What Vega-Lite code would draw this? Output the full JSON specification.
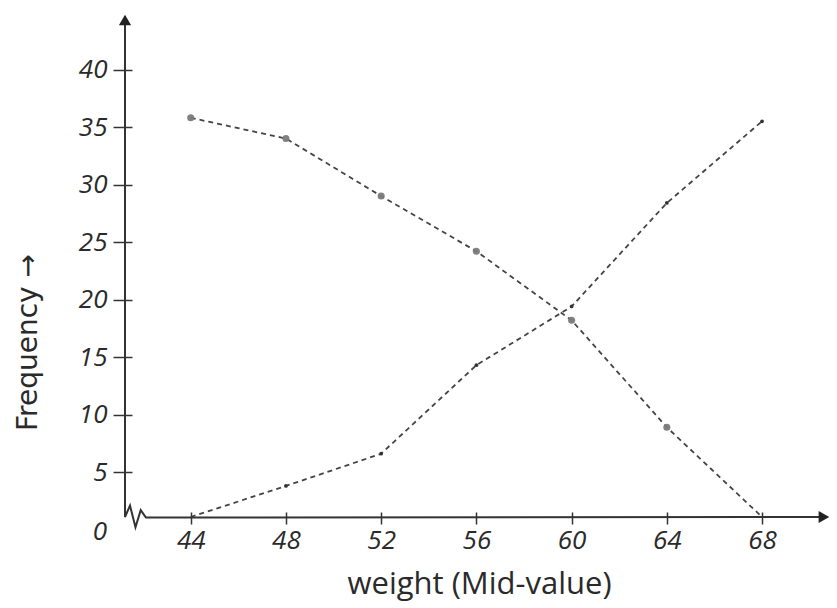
{
  "$schema": "https://vega.github.io/schema/vega-lite/v6.json",
  "width": 708,
  "height": 505,
  "autosize": {"type": "none"},
  "padding": {"left": 125, "top": 12, "right": 4, "bottom": 91},
  "background": "white",
  "config": {
    "view": {"stroke": null},
    "axis": {
      "grid": false,
      "domain": false,
      "labelFont": "Open Sans",
      "labelFontStyle": "italic",
      "labelColor": "#2a2a2a",
      "titleFont": "Open Sans",
      "titleFontWeight": "normal",
      "titleColor": "#2a2a2a",
      "tickColor": "#333",
      "tickWidth": 1.5
    }
  },
  "datasets": {
    "ogive": [
      {"weight": 44, "frequency": 35.8, "series": "more than"},
      {"weight": 48, "frequency": 34.0, "series": "more than"},
      {"weight": 52, "frequency": 29.0, "series": "more than"},
      {"weight": 56, "frequency": 24.2, "series": "more than"},
      {"weight": 60, "frequency": 18.2, "series": "more than"},
      {"weight": 64, "frequency": 8.9, "series": "more than"},
      {"weight": 68, "frequency": 0, "series": "more than"},
      {"weight": 44, "frequency": 0, "series": "less than"},
      {"weight": 48, "frequency": 3.8, "series": "less than"},
      {"weight": 52, "frequency": 6.6, "series": "less than"},
      {"weight": 56, "frequency": 14.3, "series": "less than"},
      {"weight": 60, "frequency": 19.4, "series": "less than"},
      {"weight": 64, "frequency": 28.4, "series": "less than"},
      {"weight": 68, "frequency": 35.5, "series": "less than"}
    ],
    "frame": [
      {"kind": "line", "i": 1, "weight": 41.24, "frequency": 44.6},
      {"kind": "line", "i": 2, "weight": 41.24, "frequency": 1.1},
      {"kind": "line", "i": 3, "weight": 41.45, "frequency": 2.1},
      {"kind": "line", "i": 4, "weight": 41.68, "frequency": 0.2},
      {"kind": "line", "i": 5, "weight": 41.9, "frequency": 1.7},
      {"kind": "line", "i": 6, "weight": 42.12, "frequency": 1.05},
      {"kind": "line", "i": 7, "weight": 70.5, "frequency": 1.1},
      {"kind": "arrow", "weight": 41.24, "frequency": 44.3, "shape": "triangle-up"},
      {"kind": "arrow", "weight": 70.6, "frequency": 1.1, "shape": "triangle-right"},
      {"kind": "zero", "weight": 41.24, "frequency": 0, "label": "0"}
    ]
  },
  "layer": [
    {
      "data": {"name": "ogive"},
      "encoding": {
        "x": {
          "field": "weight",
          "type": "quantitative",
          "title": "weight (Mid-value)",
          "scale": {"domain": [41.24, 70.98], "zero": false, "nice": false},
          "axis": {
            "values": [44, 48, 52, 56, 60, 64, 68],
            "offset": -5,
            "tickSize": 12,
            "labelPadding": 3,
            "labelFontSize": 26,
            "titleFontSize": 31,
            "titleY": 72,
            "titleBaseline": "middle"
          }
        },
        "y": {
          "field": "frequency",
          "type": "quantitative",
          "title": "Frequency →",
          "scale": {"domain": [1.1, 45], "zero": false, "nice": false, "clamp": true},
          "axis": {
            "values": [5, 10, 15, 20, 25, 30, 35, 40],
            "offset": -7,
            "tickSize": 19,
            "labelPadding": 6,
            "labelFontSize": 26,
            "titleFont": "DejaVu Sans",
            "titleFontSize": 28,
            "titleX": -104,
            "titleY": 330,
            "titleAngle": -90,
            "titleAlign": "center",
            "titleBaseline": "middle"
          }
        }
      },
      "layer": [
        {
          "mark": {"type": "line", "interpolate": "linear", "color": "#444", "strokeWidth": 1.8, "strokeDash": [5, 4]},
          "encoding": {"detail": {"field": "series", "type": "nominal"}}
        },
        {
          "transform": [{"filter": "datum.series == 'more than' && datum.frequency > 0"}],
          "mark": {"type": "circle", "color": "#7a7a7a", "size": 50, "opacity": 0.95}
        },
        {
          "transform": [{"filter": "datum.series == 'less than' && datum.frequency > 0"}],
          "mark": {"type": "circle", "color": "#333", "size": 14, "opacity": 1}
        }
      ]
    },
    {
      "data": {"name": "frame"},
      "encoding": {
        "x": {"field": "weight", "type": "quantitative", "title": "weight (Mid-value)", "scale": {"domain": [41.24, 70.98], "zero": false, "nice": false}},
        "y": {"field": "frequency", "type": "quantitative", "scale": {"domain": [1.1, 45], "zero": false, "nice": false}, "axis": null}
      },
      "layer": [
        {
          "transform": [{"filter": "datum.kind == 'line'"}],
          "mark": {"type": "line", "color": "#333", "strokeWidth": 2},
          "encoding": {"order": {"field": "i", "type": "quantitative"}}
        },
        {
          "transform": [{"filter": "datum.kind == 'arrow'"}],
          "mark": {"type": "point", "filled": true, "color": "#222", "size": 150, "opacity": 1},
          "encoding": {"shape": {"field": "shape", "type": "nominal", "scale": null}}
        },
        {
          "transform": [{"filter": "datum.kind == 'zero'"}],
          "mark": {"type": "text", "align": "right", "baseline": "middle", "dx": -18, "dy": 2, "font": "Open Sans", "fontStyle": "italic", "fontSize": 26, "color": "#2a2a2a"},
          "encoding": {"text": {"field": "label", "type": "nominal"}}
        }
      ]
    }
  ],
  "resolve": {"scale": {"y": "independent"}}
}
